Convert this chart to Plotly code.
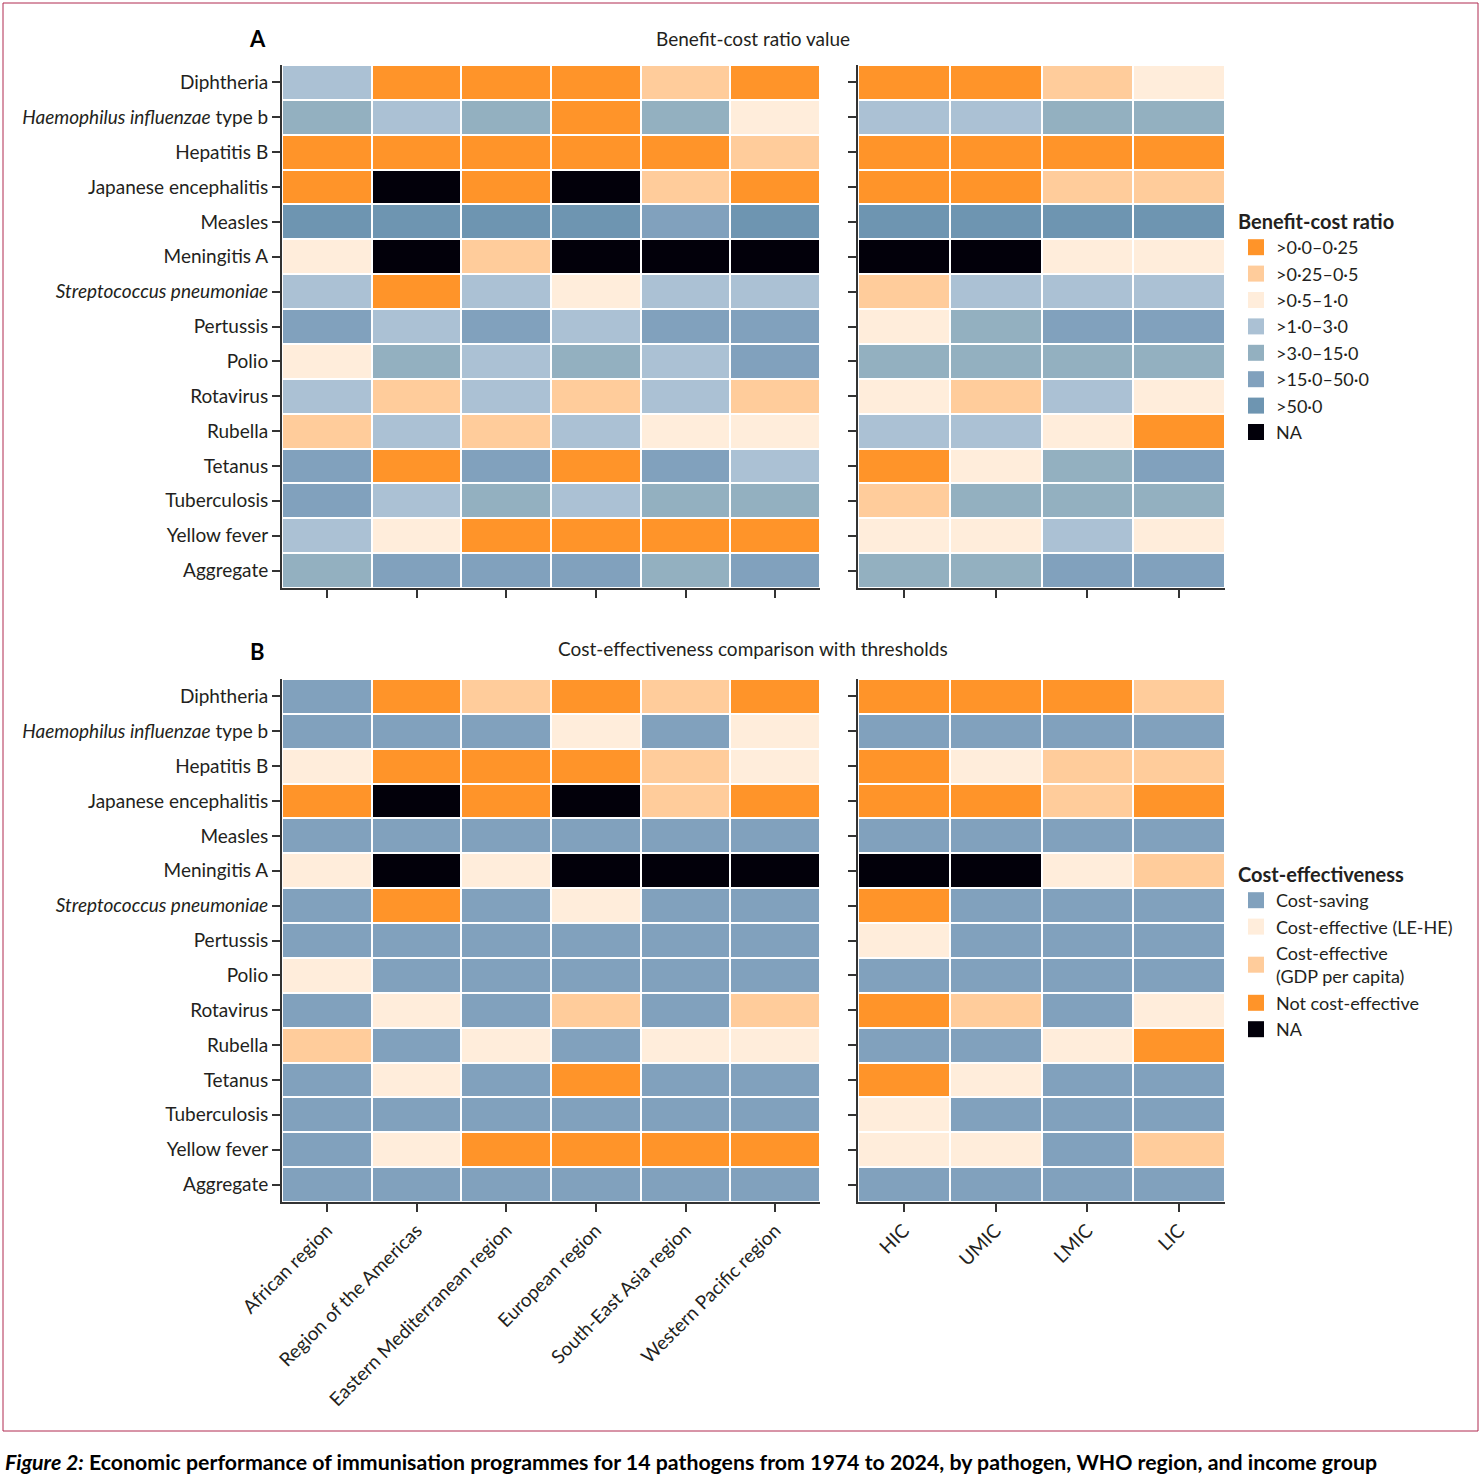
import plotly.graph_objects as go

W, H = 1484, 1482

pathogens = [
    'Diphtheria', '<i>Haemophilus influenzae</i> type b', 'Hepatitis B',
    'Japanese encephalitis', 'Measles', 'Meningitis A',
    '<i>Streptococcus pneumoniae</i>', 'Pertussis', 'Polio', 'Rotavirus',
    'Rubella', 'Tetanus', 'Tuberculosis', 'Yellow fever', 'Aggregate',
]
regions = ['African region', 'Region of the Americas', 'Eastern Mediterranean region',
           'European region', 'South-East Asia region', 'Western Pacific region']
income_groups = ['HIC', 'UMIC', 'LMIC', 'LIC']

# benefit-cost ratio classes
bcr_labels = ['>0·0–0·25', '>0·25–0·5', '>0·5–1·0', '>1·0–3·0',
              '>3·0–15·0', '>15·0–50·0', '>50·0', 'NA']
bcr_colors = ['#FF9429', '#FFCC9B', '#FFEDDB', '#ABC1D4',
              '#93B0C0', '#81A1BD', '#6E95B1', '#02000A']

# cost-effectiveness classes
ce_labels = ['Cost-saving', 'Cost-effective (LE-HE)', 'Cost-effective<br>(GDP per capita)',
             'Not cost-effective', 'NA']
ce_colors = ['#81A1BD', '#FFEDDB', '#FFCC9B', '#FF9429', '#02000A']

# class index per pathogen (rows) x group (cols)
bcr_region = [
    [3, 0, 0, 0, 1, 0],
    [4, 3, 4, 0, 4, 2],
    [0, 0, 0, 0, 0, 1],
    [0, 7, 0, 7, 1, 0],
    [6, 6, 6, 6, 5, 6],
    [2, 7, 1, 7, 7, 7],
    [3, 0, 3, 2, 3, 3],
    [5, 3, 5, 3, 5, 5],
    [2, 4, 3, 4, 3, 5],
    [3, 1, 3, 1, 3, 1],
    [1, 3, 1, 3, 2, 2],
    [5, 0, 5, 0, 5, 3],
    [5, 3, 4, 3, 4, 4],
    [3, 2, 0, 0, 0, 0],
    [4, 5, 5, 5, 4, 5],
]
bcr_income = [
    [0, 0, 1, 2],
    [3, 3, 4, 4],
    [0, 0, 0, 0],
    [0, 0, 1, 1],
    [6, 6, 6, 6],
    [7, 7, 2, 2],
    [1, 3, 3, 3],
    [2, 4, 5, 5],
    [4, 4, 4, 4],
    [2, 1, 3, 2],
    [3, 3, 2, 0],
    [0, 2, 4, 5],
    [1, 4, 4, 4],
    [2, 2, 3, 2],
    [4, 4, 5, 5],
]
ce_region = [
    [0, 3, 2, 3, 2, 3],
    [0, 0, 0, 1, 0, 1],
    [1, 3, 3, 3, 2, 1],
    [3, 4, 3, 4, 2, 3],
    [0, 0, 0, 0, 0, 0],
    [1, 4, 1, 4, 4, 4],
    [0, 3, 0, 1, 0, 0],
    [0, 0, 0, 0, 0, 0],
    [1, 0, 0, 0, 0, 0],
    [0, 1, 0, 2, 0, 2],
    [2, 0, 1, 0, 1, 1],
    [0, 1, 0, 3, 0, 0],
    [0, 0, 0, 0, 0, 0],
    [0, 1, 3, 3, 3, 3],
    [0, 0, 0, 0, 0, 0],
]
ce_income = [
    [3, 3, 3, 2],
    [0, 0, 0, 0],
    [3, 1, 2, 2],
    [3, 3, 2, 3],
    [0, 0, 0, 0],
    [4, 4, 1, 2],
    [3, 0, 0, 0],
    [1, 0, 0, 0],
    [0, 0, 0, 0],
    [3, 2, 0, 1],
    [0, 0, 1, 3],
    [3, 1, 0, 0],
    [1, 0, 0, 0],
    [1, 1, 0, 2],
    [0, 0, 0, 0],
]

FONT = 'Lato'
TXT = '#231f20'
AX = '#333333'


def steps(colors):
    n = len(colors)
    scale = []
    for i, c in enumerate(colors):
        scale.append([i / n, c])
        scale.append([(i + 1) / n, c])
    return scale


def px_x(p):
    return p / W


def px_y(p):
    return 1 - p / H


fig = go.Figure()

panels = [
    (bcr_region, regions, bcr_colors, 'x', 'y'),
    (bcr_income, income_groups, bcr_colors, 'x2', 'y2'),
    (ce_region, regions, ce_colors, 'x3', 'y3'),
    (ce_income, income_groups, ce_colors, 'x4', 'y4'),
]
for z, cols, colors, xa, ya in panels:
    fig.add_trace(go.Heatmap(
        z=z, x=list(range(len(cols))), y=list(range(len(pathogens))),
        colorscale=steps(colors), zmin=-0.5, zmax=len(colors) - 0.5,
        showscale=False, xgap=2, ygap=2, xaxis=xa, yaxis=ya,
        hoverinfo='skip',
    ))

# legend entries
for lab, col in zip(bcr_labels, bcr_colors):
    fig.add_trace(go.Scatter(
        x=[None], y=[None], mode='markers', name=lab, legend='legend',
        marker=dict(symbol='square', size=16, color=col),
    ))
for lab, col in zip(ce_labels, ce_colors):
    fig.add_trace(go.Scatter(
        x=[None], y=[None], mode='markers', name=lab, legend='legend2',
        marker=dict(symbol='square', size=16, color=col),
    ))

xdom_reg = [px_x(282), px_x(820)]
xdom_inc = [px_x(858), px_x(1225)]
ydom_a = [px_y(588), px_y(65)]
ydom_b = [px_y(1202), px_y(679)]

axis_common = dict(showline=True, linecolor=AX, linewidth=2, ticks='outside',
                   ticklen=8, tickwidth=2, tickcolor=AX, showgrid=False,
                   zeroline=False, automargin=False,
                   tickfont=dict(family=FONT, size=19, color=TXT))


def xaxis(dom, cols, anchor, labels):
    d = dict(axis_common)
    d.update(domain=dom, anchor=anchor, range=[-0.5, len(cols) - 0.5],
             tickvals=list(range(len(cols))), ticktext=cols,
             showticklabels=labels, tickangle=-45)
    return d


def yaxis(dom, anchor, labels):
    d = dict(axis_common)
    d.update(domain=dom, anchor=anchor, range=[len(pathogens) - 0.5, -0.5],
             tickvals=list(range(len(pathogens))), ticktext=pathogens,
             showticklabels=labels)
    return d


fig.update_layout(
    width=W, height=H,
    margin=dict(l=0, r=0, t=0, b=0, autoexpand=False),
    paper_bgcolor='white', plot_bgcolor='white',
    font=dict(family=FONT, size=19, color=TXT),
    xaxis=xaxis(xdom_reg, regions, 'y', False),
    yaxis=yaxis(ydom_a, 'x', True),
    xaxis2=xaxis(xdom_inc, income_groups, 'y2', False),
    yaxis2=yaxis(ydom_a, 'x2', False),
    xaxis3=xaxis(xdom_reg, regions, 'y3', True),
    yaxis3=yaxis(ydom_b, 'x3', True),
    xaxis4=xaxis(xdom_inc, income_groups, 'y4', True),
    yaxis4=yaxis(ydom_b, 'x4', False),
    legend=dict(
        x=px_x(1236), y=px_y(203), xanchor='left', yanchor='top',
        title=dict(text='<b>Benefit-cost ratio</b>', font=dict(size=20)),
        font=dict(size=18), tracegroupgap=0, itemwidth=30,
        bgcolor='rgba(0,0,0,0)',
    ),
    legend2=dict(
        x=px_x(1236), y=px_y(856), xanchor='left', yanchor='top',
        title=dict(text='<b>Cost-effectiveness</b>', font=dict(size=20)),
        font=dict(size=18), tracegroupgap=0, itemwidth=30,
        bgcolor='rgba(0,0,0,0)',
    ),
    showlegend=True,
)

annots = [
    ('<b>A</b>', 257, 38, 22, 'center'),
    ('Benefit-cost ratio value', 753, 38, 19, 'center'),
    ('<b>B</b>', 257, 652, 22, 'center'),
    ('Cost-effectiveness comparison with thresholds', 753, 648, 19, 'center'),
    ('<b><i>Figure 2:</i> Economic performance of immunisation programmes for 14 pathogens '
     'from 1974 to 2024, by pathogen, WHO region, and income group</b>', 3, 1462, 21.3, 'left'),
]
for text, x, y, size, anchor in annots:
    fig.add_annotation(text=text, x=px_x(x), y=px_y(y), xref='paper', yref='paper',
                       xanchor=anchor, yanchor='middle', showarrow=False,
                       font=dict(family=FONT, size=size, color='black' if size > 21 else TXT))

fig.add_shape(type='rect', xref='paper', yref='paper',
              x0=px_x(3), x1=px_x(1478), y0=px_y(1431), y1=px_y(3),
              line=dict(color='#b02a50', width=1))

fig.write_html('out.html', config={'displayModeBar': False},
               post_script="document.body.style.margin='0px';")
